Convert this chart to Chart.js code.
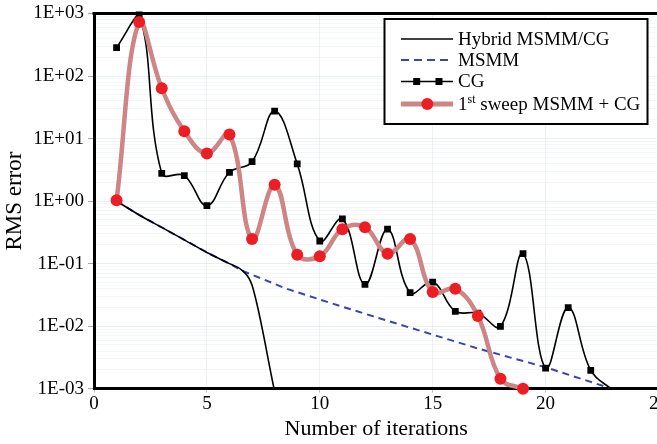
<!DOCTYPE html>
<html>
<head>
<meta charset="utf-8">
<script src="https://cdn.jsdelivr.net/npm/chart.js@4.4.1/dist/chart.umd.min.js"></script>
<style>
  html, body { margin: 0; padding: 0; background: #fff; overflow: hidden; }
  #wrap { width: 670px; height: 444px; }
</style>
</head>
<body>
<div id="wrap"><canvas id="rmsChart" width="670" height="444"></canvas></div>
<script>
// series names (legend order)
var seriesNames = ["Hybrid MSMM/CG", "MSMM", "CG", "1st sweep MSMM + CG"];

// CG
var cgIter = [1, 2, 3, 4, 5, 6, 7, 8, 9, 10, 11, 12, 13, 14, 15, 16, 17, 18, 19, 20, 21, 22, 23];
var cgRms = [285, 950, 2.78, 2.56, 0.845, 2.89, 4.27, 27.5, 3.93, 0.23, 0.52, 0.0465, 0.355, 0.0343,
    0.0507, 0.0173, 0.0161, 0.0099, 0.144, 0.00213, 0.0198, 0.00196, 0.00093];

// 1st sweep MSMM + CG
var sweepIter = [1, 2, 3, 4, 5, 6, 7, 8, 9, 10, 11, 12, 13, 14, 15, 16, 17, 18, 19];
var sweepRms = [1.03, 734, 63.8, 13.1, 5.78, 11.6, 0.247, 1.82, 0.139, 0.131, 0.356, 0.383, 0.144,
    0.247, 0.0352, 0.0396, 0.0146, 0.00144, 0.001];

// Hybrid MSMM/CG
var hybridIter = [1, 2, 3, 4, 5, 6, 6.6, 7, 8];
var hybridRms = [1.0, 0.6, 0.38, 0.24, 0.151, 0.1, 0.076, 0.045, 0.0009];

// MSMM
var msmmIter = [1, 2, 3, 4, 5, 6, 6.6, 8.5, 10.4, 12.6, 17, 20, 23];
var msmmRms = [1.0, 0.6, 0.38, 0.24, 0.151, 0.1, 0.076, 0.040, 0.024, 0.0135, 0.0044, 0.0022, 0.00098];

// axes
var xTicks = [0, 5, 10, 15, 20, 25];
var yDecades = [0.001, 0.01, 0.1, 1, 10, 100, 1000];
var yTickLabels = ["1E-03", "1E-02", "1E-01", "1E+00", "1E+01", "1E+02", "1E+03"];

function pairs(xs, ys) {
    return xs.map(function (x, i) { return { x: x, y: ys[i] }; });
}

var serif = "'Liberation Serif', 'DejaVu Serif', serif";
var sweepLine = 'rgb(204, 134, 134)';
var sweepDot = 'rgb(236, 30, 36)';
var msmmBlue = 'rgb(58, 68, 178)';

// legend box + top frame line
var frameLegend = {
    id: 'frameLegend',
    afterDraw: function (chart) {
        var ctx = chart.ctx;
        var a = chart.chartArea;
        ctx.save();
        // top frame
        ctx.strokeStyle = '#000';
        ctx.lineWidth = 3;
        ctx.beginPath();
        ctx.moveTo(a.left - 1.5, a.top);
        ctx.lineTo(a.right + 10, a.top);
        ctx.stroke();

        // legend
        var bx = 384.5, by = 19, bw = 263, bh = 105;
        ctx.fillStyle = '#fff';
        ctx.fillRect(bx, by, bw, bh);
        ctx.lineWidth = 2;
        ctx.strokeStyle = '#000';
        ctx.strokeRect(bx, by, bw, bh);

        var rows = [39, 60, 81.5, 104];
        var x0 = 401, x1 = 453, tx = 458;
        ctx.textBaseline = 'middle';
        ctx.textAlign = 'left';
        ctx.font = '19px ' + serif;

        // Hybrid
        ctx.lineWidth = 1.5;
        ctx.strokeStyle = '#000';
        ctx.beginPath(); ctx.moveTo(x0, rows[0]); ctx.lineTo(x1, rows[0]); ctx.stroke();
        // MSMM
        ctx.strokeStyle = msmmBlue;
        ctx.lineWidth = 2;
        ctx.setLineDash([8, 5]);
        ctx.beginPath(); ctx.moveTo(x0, rows[1]); ctx.lineTo(x1, rows[1]); ctx.stroke();
        ctx.setLineDash([]);
        // CG
        ctx.strokeStyle = '#000';
        ctx.lineWidth = 1.5;
        ctx.beginPath(); ctx.moveTo(x0, rows[2]); ctx.lineTo(x1, rows[2]); ctx.stroke();
        ctx.fillStyle = '#000';
        ctx.fillRect(416.7 - 3.5, rows[2] - 3.5, 7, 7);
        ctx.fillRect(439 - 3.5, rows[2] - 3.5, 7, 7);
        // sweep
        ctx.strokeStyle = sweepLine;
        ctx.lineWidth = 5;
        ctx.beginPath(); ctx.moveTo(x0, rows[3]); ctx.lineTo(x1, rows[3]); ctx.stroke();
        ctx.fillStyle = sweepDot;
        ctx.beginPath(); ctx.arc(427.3, rows[3], 6, 0, Math.PI * 2); ctx.fill();

        ctx.fillStyle = '#000';
        for (var i = 0; i < 3; i++) {
            ctx.fillText(seriesNames[i], tx, rows[i] + 1);
        }
        // "1st" with superscript
        var lab = seriesNames[3];
        ctx.fillText(lab.slice(0, 1), tx, rows[3] + 1);
        var w1 = ctx.measureText(lab.slice(0, 1)).width;
        ctx.font = '12px ' + serif;
        ctx.fillText(lab.slice(1, 3), tx + w1, rows[3] - 4);
        var w2 = ctx.measureText(lab.slice(1, 3)).width;
        ctx.font = '19px ' + serif;
        ctx.fillText(lab.slice(3), tx + w1 + w2, rows[3] + 1);
        ctx.restore();
    }
};

var ctxRms = document.getElementById('rmsChart').getContext('2d');
var chart = new Chart(ctxRms, {
    type: 'line',
    data: {
        datasets: [{
            label: seriesNames[3],
            data: pairs(sweepIter, sweepRms),
            borderColor: sweepLine,
            borderWidth: 4.5,
            tension: 0.4,
            pointStyle: 'circle',
            pointRadius: 6,
            pointBorderWidth: 0,
            pointBackgroundColor: sweepDot,
            pointBorderColor: sweepDot,
            clip: false,
            order: 0
        }, {
            label: seriesNames[2],
            data: pairs(cgIter, cgRms),
            borderColor: '#000',
            borderWidth: 1.6,
            tension: 0.4,
            pointStyle: 'rect',
            pointRadius: 4.8,
            pointBorderWidth: 0,
            pointBackgroundColor: '#000',
            clip: { left: 0, right: 0, top: 5, bottom: 0 },
            order: 1
        }, {
            label: seriesNames[0],
            data: pairs(hybridIter, hybridRms),
            borderColor: '#000',
            borderWidth: 1.6,
            cubicInterpolationMode: 'monotone',
            pointRadius: 0,
            clip: 0,
            order: 2
        }, {
            label: seriesNames[1],
            data: pairs(msmmIter, msmmRms),
            borderColor: msmmBlue,
            borderWidth: 2,
            borderDash: [7, 5],
            tension: 0,
            pointRadius: 0,
            clip: 0,
            order: 3
        }]
    },
    options: {
        responsive: false,
        animation: false,
        layout: { padding: { top: 9.5, right: 0, left: 0, bottom: 0 } },
        plugins: {
            legend: { display: false },
            tooltip: { enabled: false }
        },
        scales: {
            x: {
                type: 'linear',
                min: 0,
                max: 25,
                afterBuildTicks: function (scale) {
                    scale.ticks = xTicks.map(function (v) { return { value: v }; });
                },
                afterFit: function (scale) { scale.height = 55.3; },
                ticks: {
                    color: '#000',
                    font: { family: serif, size: 19, lineHeight: 1 },
                    padding: 2,
                    maxRotation: 0
                },
                grid: {
                    color: 'rgba(120, 150, 150, 0.12)',
                    tickLength: 4,
                    tickColor: 'rgba(0,0,0,0.25)'
                },
                border: { color: '#000', width: 3 },
                title: {
                    display: true,
                    text: 'Number of iterations',
                    color: '#000',
                    font: { family: serif, size: 22, lineHeight: 1.2 },
                    padding: { top: 0, bottom: 2 }
                }
            },
            y: {
                type: 'logarithmic',
                min: 0.001,
                max: 1000,
                afterBuildTicks: function (scale) {
                    var t = [];
                    yDecades.forEach(function (d, i) {
                        t.push({ value: d, major: true });
                        if (i < yDecades.length - 1) {
                            for (var m = 2; m <= 9; m++) t.push({ value: d * m });
                        }
                    });
                    scale.ticks = t;
                },
                afterFit: function (scale) { scale.width = 94; },
                ticks: {
                    autoSkip: false,
                    color: '#000',
                    font: { family: serif, size: 19, lineHeight: 1 },
                    padding: 4,
                    callback: function (value) {
                        var i = yDecades.findIndex(function (d) { return Math.abs(d - value) / d < 1e-6; });
                        return i >= 0 ? yTickLabels[i] : '';
                    }
                },
                grid: {
                    color: function (c) {
                        return c.tick && c.tick.major ? 'rgba(120, 150, 150, 0.16)' : 'rgba(120, 150, 150, 0.08)';
                    },
                    tickLength: 6,
                    tickColor: function (c) {
                        return c.tick && c.tick.major ? 'rgba(0,0,0,0.35)' : 'rgba(0,0,0,0)';
                    }
                },
                border: { color: '#000', width: 3 },
                title: {
                    display: true,
                    text: 'RMS error',
                    color: '#000',
                    font: { family: serif, size: 23, lineHeight: 1.2 },
                    padding: { top: 1, bottom: 0 }
                }
            }
        }
    },
    plugins: [frameLegend]
});
</script>
</body>
</html>
